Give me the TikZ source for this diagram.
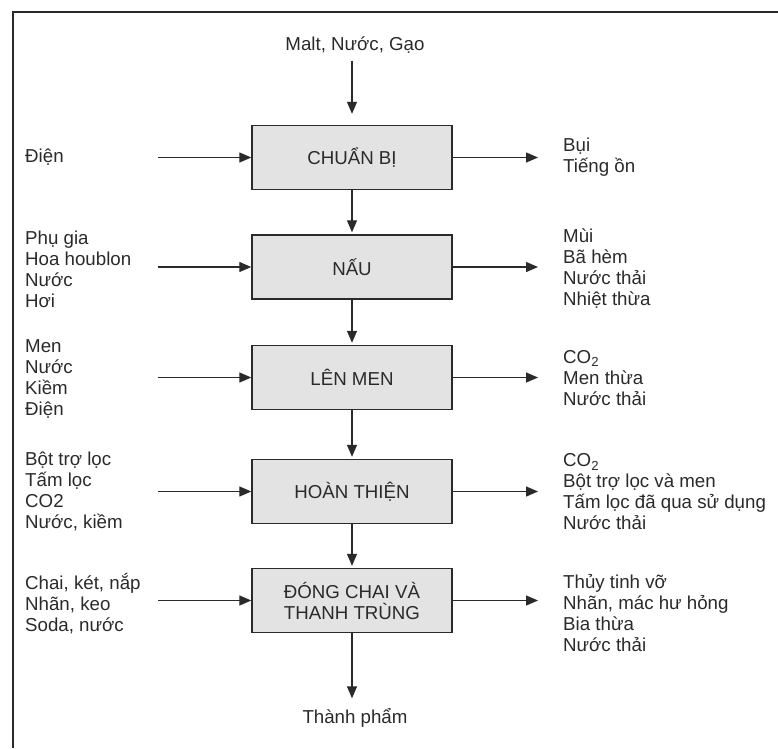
\documentclass[tikz,border=0pt]{standalone}
\usepackage{fontspec}
\setmainfont{Liberation Sans}
\usetikzlibrary{arrows.meta}
\definecolor{ink}{HTML}{2A2A2A}
\definecolor{boxfill}{HTML}{E3E3E3}
\begin{document}
\begin{tikzpicture}[x=1pt,y=-1pt,
  every node/.style={font=\fontsize{18.7}{21}\selectfont, text=ink, inner sep=0pt},
  stage/.style={draw=ink, line width=1.4pt, fill=boxfill, minimum width=200pt,
    minimum height=64pt, align=center},
  flow/.style={draw=ink, line width=1.3pt, -{Triangle[length=12pt,width=10pt]}},
  itemlist/.style={anchor=west, align=left}]
\useasboundingbox (0,0) rectangle (778,748);
% page frame
\draw[ink, line width=1.8pt] (13,748) -- (13,12) -- (778,12);

% process stages
\node[stage] (s1) at (352,157.5) {CHUẨN BỊ};
\node[stage] (s2) at (352,267) {NẤU};
\node[stage] (s3) at (352,377.5) {LÊN MEN};
\node[stage] (s4) at (352,491.5) {HOÀN THIỆN};
\node[stage] (s5) at (352,600.5) {ĐÓNG CHAI VÀ\\THANH TRÙNG};

% raw material and final product
\node (raw) at (355,45) {Malt, Nước, Gạo};
\node (prod) at (355,718) {Thành phẩm};

% inputs
\node[itemlist] (in1) at (25,157) {Điện};
\node[itemlist] (in2) at (25,269) {Phụ gia\\Hoa houblon\\Nước\\Hơi};
\node[itemlist] (in3) at (25,379) {Men\\Nước\\Kiềm\\Điện};
\node[itemlist] (in4) at (25,491.5) {Bột trợ lọc\\Tấm lọc\\CO2\\Nước, kiềm};
\node[itemlist] (in5) at (25,604) {Chai, két, nắp\\Nhãn, keo\\Soda, nước};

% outputs
\node[itemlist] (out1) at (563,157.5) {Bụi\\Tiếng ồn};
\node[itemlist] (out2) at (563,269) {Mùi\\Bã hèm\\Nước thải\\Nhiệt thừa};
\node[itemlist] (out3) at (563,378) {CO\textsubscript{2}\\Men thừa\\Nước thải};
\node[itemlist] (out4) at (563,492) {CO\textsubscript{2}\\Bột trợ lọc và men\\Tấm lọc đã qua sử dụng\\Nước thải};
\node[itemlist] (out5) at (563,613) {Thủy tinh vỡ\\Nhãn, mác hư hỏng\\Bia thừa\\Nước thải};

% arrow start / end columns
\coordinate (lx) at (158,0);
\coordinate (rx) at (538,0);

% main flow
\draw[flow] ([yshift=-7pt]raw.south -| s1.north) -- ([yshift=11pt]s1.north);
\draw[flow] (s1.south) -- ([yshift=2pt]s2.north);
\draw[flow] (s2.south) -- ([yshift=2pt]s3.north);
\draw[flow] (s3.south) -- ([yshift=2pt]s4.north);
\draw[flow] (s4.south) -- ([yshift=2pt]s5.north);
\draw[flow] (s5.south) -- ([yshift=10pt]prod.north -| s5.south);

% inputs into stages
\foreach \s in {s1,s2,s3,s4,s5}
  \draw[flow] (\s.west -| lx) -- (\s.west);
% outputs from stages
\foreach \s in {s1,s2,s3,s4,s5}
  \draw[flow] (\s.east) -- (\s.east -| rx);
\end{tikzpicture}
\end{document}
